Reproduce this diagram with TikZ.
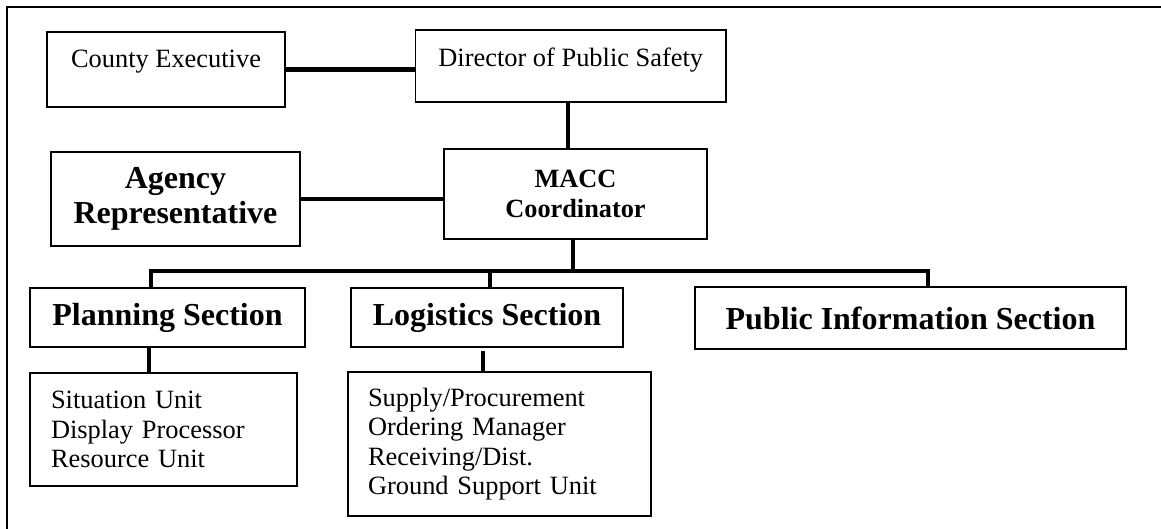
\documentclass[tikz,border=0pt]{standalone}
\usepackage{fontspec}
\setmainfont{Liberation Serif}
\usetikzlibrary{calc}
\begin{document}
\begin{tikzpicture}[x=1pt,y=-1pt,
  box/.style={draw,line width=1.8pt,inner sep=0pt,rectangle},
  reg/.style={font=\fontsize{26.4}{29.5}\selectfont},
  big/.style={font=\bfseries\fontsize{32}{35}\selectfont},
  mid/.style={font=\bfseries\fontsize{26.3}{29.5}\selectfont},
  link/.style={line width=4.5pt,line join=miter}]
\useasboundingbox (0,0) rectangle (1161,529);
% page frame (top and left edges)
\draw[line width=2pt] (7,529) -- (7,7) -- (1161,7);

% top level
\node[box,reg,minimum width=238pt,text height=36pt,text depth=39pt] (ce) at (166,69.5) {County Executive};
\node[box,reg,minimum width=310.5pt,text height=37pt,text depth=35pt] (dir) at (570.75,66) {Director of Public Safety};

% coordination level
\node[box,big,align=center,minimum width=249pt,minimum height=94pt] (agency) at (175.5,199) {Agency\\Representative};
\node[box,mid,align=center,minimum width=263pt,minimum height=90pt] (macc) at (575.5,194) {MACC\\Coordinator};

% sections
\node[box,big,minimum width=275pt,minimum height=59pt] (plan) at (167.5,317.5) {Planning Section};
\node[box,big,minimum width=272pt,minimum height=59pt] (logi) at (487,317.5) {Logistics Section};
\node[box,big,minimum width=431pt,minimum height=62pt] (pub) at (910.5,318) {Public Information Section};

% units
\node[box,reg,align=left,text width=225pt,inner xsep=21pt,minimum height=113pt] (sit) at (163.5,429.5)
  {Situation Unit\\Display Processor\\Resource Unit};
\node[box,reg,align=left,text width=263pt,inner xsep=20pt,minimum height=144pt] (sup) at (499.5,444)
  {Supply/Procurement\\Ordering Manager\\Receiving/Dist.\\Ground Support Unit};

% connectors
\coordinate (bus) at (573,271);
\draw[link] (ce.east) -- (ce.east -| dir.west);
\draw[link] ([xshift=-7.5pt]macc.north) -- ([xshift=-7.5pt]macc.north |- dir.south);
\draw[link] (agency.east) -- (agency.east -| macc.west);
\draw[link] (macc.south -| bus) -- (bus);
\draw[link] ([xshift=-16.5pt]plan.north) |- (bus) -| ([xshift=17.5pt]pub.north);
\draw[link] ([xshift=3pt]logi.north) -- ([xshift=3pt]logi.north |- bus);
\draw[link] ([xshift=-18.5pt]plan.south) -- ([xshift=-18.5pt]plan.south |- sit.north);
\draw[link,shorten <=3pt] ([xshift=-4pt]logi.south) -- ([xshift=-4pt]logi.south |- sup.north);
\end{tikzpicture}
\end{document}
